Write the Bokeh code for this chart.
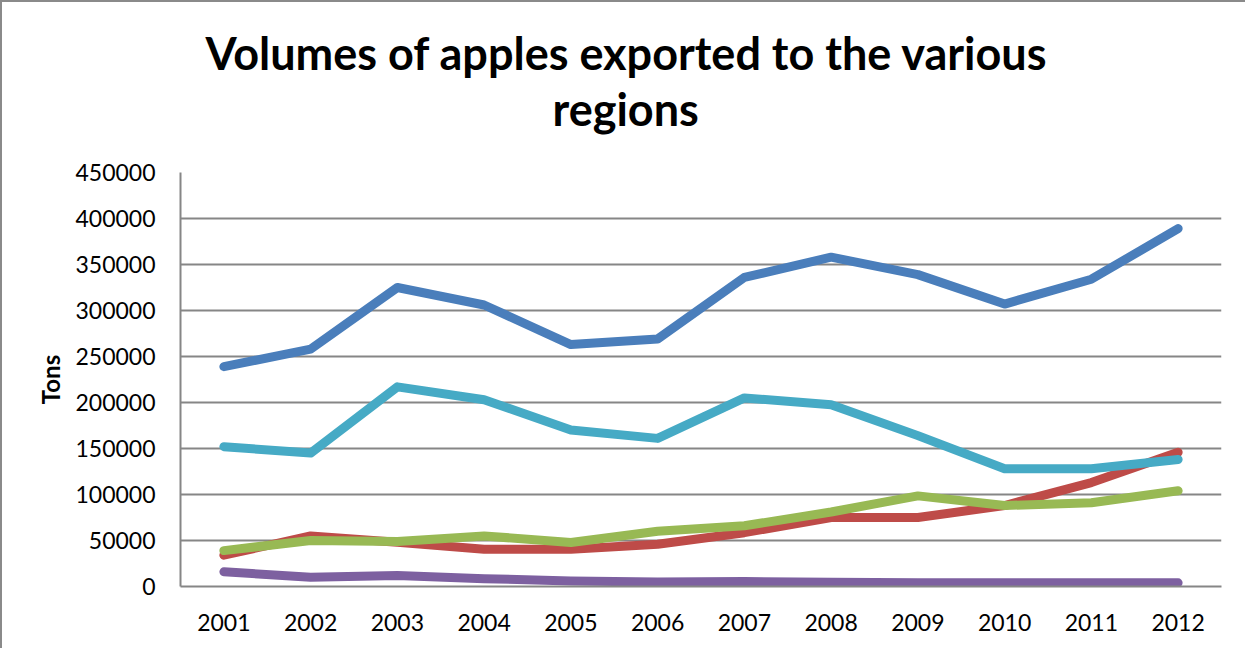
from bokeh.plotting import figure
from bokeh.models import FactorRange, Range1d, FixedTicker, NumeralTickFormatter, Title
from bokeh.embed import file_html
from bokeh.resources import INLINE

years = ["2001", "2002", "2003", "2004", "2005", "2006", "2007", "2008", "2009", "2010", "2011", "2012"]
series_blue = [239000, 258000, 325000, 306000, 263000, 269000, 336000, 358000, 339000, 307000, 334000, 389000]
series_red = [34000, 55000, 48000, 40500, 40500, 46000, 58500, 75000, 75000, 88000, 113000, 146000]
series_green = [39000, 50000, 49000, 55000, 47800, 60000, 66000, 81000, 98500, 88000, 91000, 104000]
series_purple = [16000, 10000, 12000, 8500, 6000, 5000, 5500, 4500, 4000, 4000, 4000, 4000]
series_cyan = [152000, 145000, 217000, 203000, 170000, 161000, 205000, 197500, 164000, 128000, 128000, 138000]
y_ticks = [0, 50000, 100000, 150000, 200000, 250000, 300000, 350000, 400000, 450000]

title_line1 = "Volumes of apples exported to the various"
title_line2 = "regions"
y_label = "Tons"

FONT = "Lato"
GRID = "#868686"

p = figure(
    x_range=FactorRange(*years, range_padding=0),
    y_range=Range1d(0, 450000),
    width=1245, height=648,
    output_backend="svg", toolbar_location=None,
    min_border_left=178, min_border_right=26, min_border_top=170, min_border_bottom=64,
)
p.styles = {"border-left": "2px solid #8a8a8a", "border-top": "2px solid #8a8a8a", "box-sizing": "border-box"}
p.outline_line_color = None
p.background_fill_color = "white"
p.border_fill_color = "white"

p.xgrid.grid_line_color = None
p.ygrid.grid_line_color = GRID
p.ygrid.grid_line_width = 2
p.yaxis.ticker = FixedTicker(ticks=y_ticks)
p.yaxis.formatter = NumeralTickFormatter(format="0")

for ax in (p.xaxis[0], p.yaxis[0]):
    ax.axis_line_color = GRID
    ax.axis_line_width = 2
    ax.major_tick_line_color = None
    ax.minor_tick_line_color = None
    ax.major_label_text_font = FONT
    ax.major_label_text_font_size = "23px"
    ax.major_label_text_color = "black"
p.xaxis.major_label_standoff = 21
p.yaxis.major_label_standoff = 19

p.yaxis.axis_label = y_label
p.yaxis.axis_label_text_font = FONT
p.yaxis.axis_label_text_font_style = "bold"
p.yaxis.axis_label_text_font_size = "24px"
p.yaxis.axis_label_text_color = "black"
p.yaxis.axis_label_standoff = 7

colors = ["#4A7EBB", "#BE4B48", "#98B954", "#7D60A0", "#46AAC5"]
for vals, c in zip([series_blue, series_red, series_green, series_purple, series_cyan], colors):
    p.line(years, vals, line_color=c, line_width=9, line_cap="round", line_join="round")

# outermost title: first line
p.title.text = title_line1
p.title.align = "left"
p.title.offset = 25
p.title.standoff = 0
p.title.text_font = FONT
p.title.text_font_style = "bold"
p.title.text_font_size = "45px"
p.title.text_color = "black"

# spacer between the title block and the plot area
spacer = Title(text=" ", text_font_size="1px", standoff=34)
p.add_layout(spacer, "above")

t2 = Title(text=title_line2, align="left", offset=372, standoff=0, text_font=FONT,
           text_font_style="bold", text_font_size="45px", text_color="black")
p.add_layout(t2, "above")

open("out.html", "w").write(file_html(p, INLINE))
